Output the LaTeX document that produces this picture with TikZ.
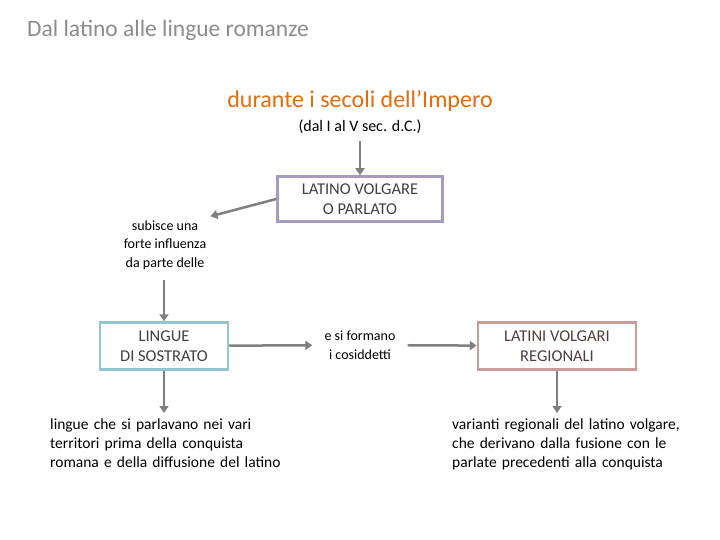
\documentclass[tikz,border=0pt]{standalone}
\usepackage{fontspec}
\setmainfont{Carlito}
\usepackage{xcolor}
\usetikzlibrary{positioning,arrows.meta}

\definecolor{titlegray}{HTML}{8C8C8C}
\definecolor{impero}{HTML}{E46C0A}
\definecolor{arrowgray}{HTML}{7F7F7F}
\definecolor{lilla}{HTML}{A99BBD}
\definecolor{celeste}{HTML}{93C5D3}
\definecolor{rosa}{HTML}{C99C9C}

\begin{document}
\begin{tikzpicture} [
    x=1pt, y=-1pt,
    box/.style={rectangle, draw, line width=2.5pt, fill=white, align=center, font=\fontsize{16.5}{20}\selectfont, text=black!75},
    note/.style={align=center, inner sep=4pt, font=\fontsize{14}{18.5}\selectfont},
    longnote/.style={align=left, inner sep=0pt, text width=260pt, font=\fontsize{15.5}{19}\selectfont},
    arr/.style={draw=arrowgray, line width=2.5pt, -{Triangle[width=9pt,length=7pt]}}
]
\useasboundingbox (0,0) rectangle (720,540);

% Titles
\node[anchor=west, inner sep=0pt, text=titlegray, font=\fontsize{23.5}{28}\selectfont] (title) at (27,30) {Dal latino alle lingue romanze};
\node[text=impero, font=\fontsize{24}{28}\selectfont] (impero) at (360,101) {durante i secoli dell’Impero};
\node[font=\fontsize{16}{19}\selectfont, inner sep=3pt] (secoli) at (360,127) {(dal I al V sec. d.C.)};

% Boxes
\node[box, draw=lilla, minimum width=165pt, minimum height=45pt] (volgare) at (360,199) {LATINO VOLGARE\\O PARLATO};
\node[box, draw=celeste, minimum width=128pt, minimum height=47pt] (sostrato) at (164,346) {LINGUE\\DI SOSTRATO};
\node[box, draw=rosa, text=rosa!40!black, minimum width=158pt, minimum height=47pt] (regionali) at (557,346) {LATINI VOLGARI\\REGIONALI};

% Notes
\node[note] (subisce) at (165,245) {subisce una\\forte influenza\\da parte delle};
\node[note, inner sep=12pt] (formano) at (360,345) {e si formano\\i cosiddetti};
\node[longnote, anchor=north west] (sostratonote) at (50,419) {lingue che si parlavano nei vari\\territori prima della conquista\\romana e della diffusione del latino};
\node[longnote, anchor=north west] (regionalinote) at (452,419) {varianti regionali del latino volgare,\\che derivano dalla fusione con le\\parlate precedenti alla conquista};

% Connections
\draw[arr, shorten <=4pt] (secoli) -- (volgare);
\draw[arr] (volgare.west) -- (subisce.north east);
\draw[arr, shorten <=6pt] (subisce.south -| sostrato.north) -- (sostrato.north);
\draw[arr] (sostrato) -- (formano);
\draw[arr] (formano) -- (regionali);
\draw[arr, shorten >=6pt] (sostrato.south) -- (sostrato.south |- sostratonote.north);
\draw[arr, shorten >=6pt] (regionali.south) -- (regionali.south |- regionalinote.north);

\end{tikzpicture}
\end{document}
